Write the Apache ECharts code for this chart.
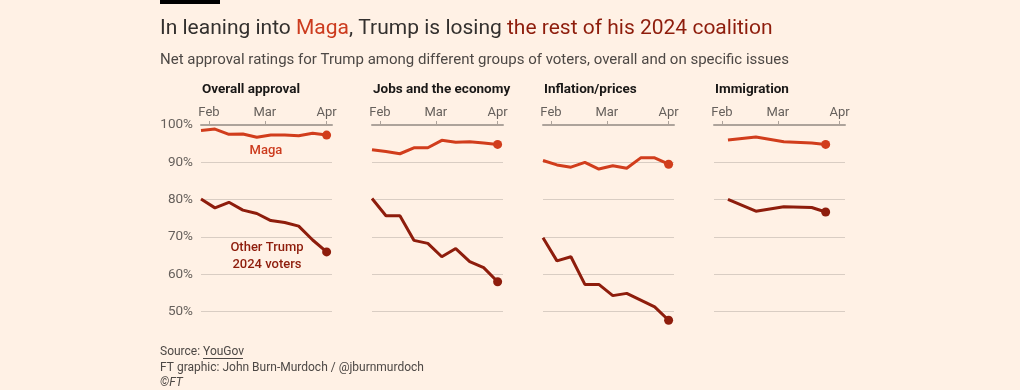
<!DOCTYPE html>
<html>
<head>
<meta charset="utf-8">
<script src="https://cdn.jsdelivr.net/npm/echarts@6/dist/echarts.min.js"></script>
<style>
html,body{margin:0;padding:0;background:#fff1e5;}
#chart{width:1020px;height:390px;}
</style>
</head>
<body>
<div id="chart"></div>
<script>
// ---- Data ----
const panelTitles = ['Overall approval', 'Jobs and the economy', 'Inflation/prices', 'Immigration'];
const weeklyDates = ['2025-01-28','2025-02-04','2025-02-11','2025-02-18','2025-02-25','2025-03-04','2025-03-11','2025-03-18','2025-03-25','2025-04-01'];
const immigrationDates = ['2025-02-04','2025-02-18','2025-03-04','2025-03-18','2025-03-25'];

const overallMaga  = [98.5, 98.9, 97.5, 97.6, 96.7, 97.3, 97.3, 97.1, 97.8, 97.3];
const overallOther = [80.2, 77.8, 79.3, 77.2, 76.3, 74.4, 73.9, 72.9, 69.2, 66.0];
const jobsMaga     = [93.4, 92.9, 92.3, 93.9, 93.9, 95.9, 95.4, 95.5, 95.2, 94.8];
const jobsOther    = [80.3, 75.7, 75.7, 69.1, 68.3, 64.7, 66.9, 63.4, 61.8, 58.0];
const inflMaga     = [90.5, 89.3, 88.7, 90.0, 88.2, 89.1, 88.4, 91.2, 91.2, 89.5];
const inflOther    = [69.8, 63.6, 64.7, 57.3, 57.3, 54.3, 54.9, 53.1, 51.3, 47.7];
const immMaga      = [96.0, 96.8, 95.5, 95.2, 94.8];
const immOther     = [80.1, 76.9, 78.1, 77.9, 76.7];

const monthTicks = ['2025-02-01', '2025-03-01', '2025-04-01'];
const monthLabels = ['Feb', 'Mar', 'Apr'];
const yTicks = [50, 60, 70, 80, 90, 100];

// ---- Build ----
const ts = s => new Date(s + 'T00:00:00Z').getTime();
const DAY = 86400000;
const xMin = ts('2025-01-28');
const xMax = ts('2025-04-01') + 2.7 * DAY;
const tickVals = monthTicks.map(ts);

const panels = [
  {dates: weeklyDates, maga: overallMaga, other: overallOther},
  {dates: weeklyDates, maga: jobsMaga, other: jobsOther},
  {dates: weeklyDates, maga: inflMaga, other: inflOther},
  {dates: immigrationDates, maga: immMaga, other: immOther}
];

const MAGA = '#d13d1c';
const OTHER = '#8e1d0c';
const FONT = 'Roboto, "Noto Sans", sans-serif';

const lefts = [201, 372, 543, 714];
const grids = [], xAxes = [], yAxes = [], series = [], titles = [];

panels.forEach((p, i) => {
  grids.push({left: lefts[i], top: 125, width: 131, height: 224});
  xAxes.push({
    type: 'value', gridIndex: i, position: 'top', min: xMin, max: xMax,
    axisLine: {show: true, lineStyle: {color: '#ada39b', width: 2}},
    axisTick: {show: true, customValues: tickVals, length: 4, lineStyle: {color: '#ada39b', width: 1}},
    axisLabel: {show: true, customValues: tickVals, margin: 6, color: '#66605c', fontSize: 13, fontFamily: FONT,
      formatter: v => monthLabels[tickVals.indexOf(v)] || ''},
    splitLine: {show: false}
  });
  yAxes.push({
    type: 'value', gridIndex: i, min: 40, max: 100, interval: 10,
    axisLine: {show: false}, axisTick: {show: false},
    axisLabel: {show: i === 0, margin: 8, color: '#66605c', fontSize: 13.5, fontFamily: FONT,
      formatter: v => yTicks.indexOf(v) >= 0 ? v + '%' : ''},
    splitLine: {show: true, lineStyle: {color: ['rgba(0,0,0,0)', '#d9cdc3', '#d9cdc3', '#d9cdc3', '#d9cdc3', '#d9cdc3', 'rgba(0,0,0,0)'], width: 1}}
  });
  [[p.maga, MAGA], [p.other, OTHER]].forEach(([vals, col]) => {
    const last = vals.length - 1;
    series.push({
      type: 'line', xAxisIndex: i, yAxisIndex: i,
      data: vals.map((v, k) => [ts(p.dates[k]), v]),
      showSymbol: true, symbol: 'circle',
      symbolSize: (val, params) => params.dataIndex === last ? 9 : 0,
      itemStyle: {color: col},
      lineStyle: {color: col, width: 3},
      silent: true, animation: false, z: 3
    });
  });
  titles.push({
    text: panelTitles[i], left: lefts[i] - 4, top: 78,
    textStyle: {fontFamily: FONT, fontSize: 13.5, fontWeight: 'bold', color: '#1a1817'}
  });
});

titles.push({
  text: '{a|In leaning into }{b|Maga}{a|, Trump is losing }{c|the rest of his 2024 coalition}',
  left: 155, top: 13,
  textStyle: {
    fontFamily: FONT, fontSize: 21, fontWeight: 'normal',
    rich: {
      a: {fontFamily: FONT, fontSize: 21, fontWeight: 'normal', color: '#33302e'},
      b: {fontFamily: FONT, fontSize: 21, fontWeight: 'normal', color: '#cc3b1e'},
      c: {fontFamily: FONT, fontSize: 21, fontWeight: 'normal', color: '#8e1d0c'}
    }
  }
});
titles.push({
  text: 'Net approval ratings for Trump among different groups of voters, overall and on specific issues',
  left: 155, top: 48,
  textStyle: {fontFamily: FONT, fontSize: 15, fontWeight: 'normal', color: '#4d4845'}
});

const chart = echarts.init(document.getElementById('chart'), null, {renderer: 'canvas'});
chart.setOption({
  backgroundColor: '#fff1e5',
  animation: false,
  title: titles,
  grid: grids, xAxis: xAxes, yAxis: yAxes, series: series,
  graphic: [
    {type: 'rect', left: 160, top: 0, shape: {width: 60, height: 4}, style: {fill: '#000'}},
    {type: 'text', x: 266, y: 151, style: {text: 'Maga', fill: '#cc3b1e', font: '500 13px ' + FONT, textAlign: 'center', textVerticalAlign: 'middle'}},
    {type: 'text', x: 267, y: 256, style: {text: 'Other Trump\n2024 voters', fill: '#8e1d0c', font: '500 13px ' + FONT, textAlign: 'center', textVerticalAlign: 'middle', lineHeight: 17}},
    {type: 'text', x: 160, y: 352, style: {text: 'Source: YouGov', fill: '#4d4845', font: '12px ' + FONT, textVerticalAlign: 'middle'}},
    {type: 'line', shape: {x1: 203, y1: 358.5, x2: 243, y2: 358.5}, style: {stroke: '#4d4845', lineWidth: 1}},
    {type: 'text', x: 160, y: 367.5, style: {text: 'FT graphic: John Burn-Murdoch / @jburnmurdoch', fill: '#4d4845', font: '12px ' + FONT, textVerticalAlign: 'middle'}},
    {type: 'text', x: 160, y: 382.5, style: {text: '©FT', fill: '#4d4845', font: 'italic 12px ' + FONT, textVerticalAlign: 'middle'}}
  ]
});
</script>
</body>
</html>
